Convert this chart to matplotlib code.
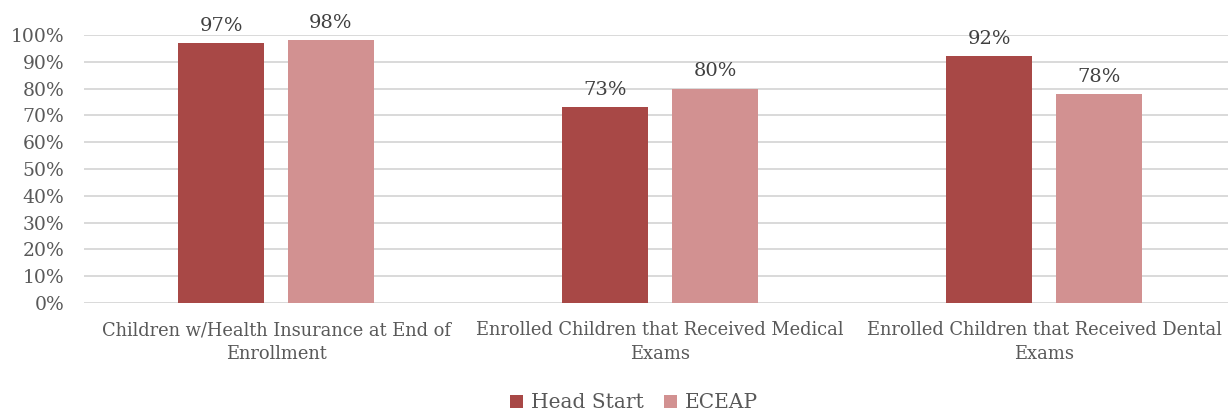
import numpy as np
import matplotlib.pyplot as plt

# données du graphique
categories = ["Children w/Health Insurance at End of\nEnrollment",
              "Enrolled Children that Received Medical\nExams",
              "Enrolled Children that Received Dental\nExams"]
head_start = [0.97, 0.73, 0.92]
eceap = [0.98, 0.80, 0.78]
series_names = ["Head Start", "ECEAP"]

plt.rcParams['font.family'] = ['DejaVu Serif']
txt = '#595959'

fig = plt.figure(figsize=(12.31, 4.16), dpi=100)
ax = fig.add_axes([84/1231, 113/416, 1144/1231, 268/416])

x = np.arange(len(categories))
w = 0.224
off = 0.143
b1 = ax.bar(x - off, head_start, w, color='#A84846', label=series_names[0], zorder=3)
b2 = ax.bar(x + off, eceap, w, color='#D29191', label=series_names[1], zorder=3)

for bars in (b1, b2):
    for r in bars:
        ax.annotate(f"{r.get_height()*100:.0f}%", (r.get_x() + r.get_width()/2, r.get_height()),
                    xytext=(0, 6), textcoords='offset points', ha='center', va='bottom',
                    fontsize=14, color='#404040')

ax.set_xlim(-0.5, 2.479)
ax.set_ylim(0, 1)
ax.set_yticks(np.arange(0, 1.01, 0.1))
ax.set_yticklabels([f"{int(round(v*100))}%" for v in np.arange(0, 1.01, 0.1)], fontsize=13.5, color=txt)
ax.set_xticks(x)
ax.set_xticklabels(categories, fontsize=12.9, color=txt, linespacing=1.45)
ax.tick_params(axis='x', length=0, pad=13)
ax.tick_params(axis='y', length=0, pad=14)
ax.grid(axis='y', color='#d9d9d9', linewidth=1.4, zorder=0)
for s in ax.spines.values():
    s.set_visible(False)

fig.legend(loc='lower center', bbox_to_anchor=(0.515, -0.035), ncol=2, frameon=False,
           fontsize=14.5, handlelength=0.65, handleheight=0.65, handletextpad=0.4,
           columnspacing=1.0, labelcolor=txt)

fig.savefig('out.png', dpi=100)
